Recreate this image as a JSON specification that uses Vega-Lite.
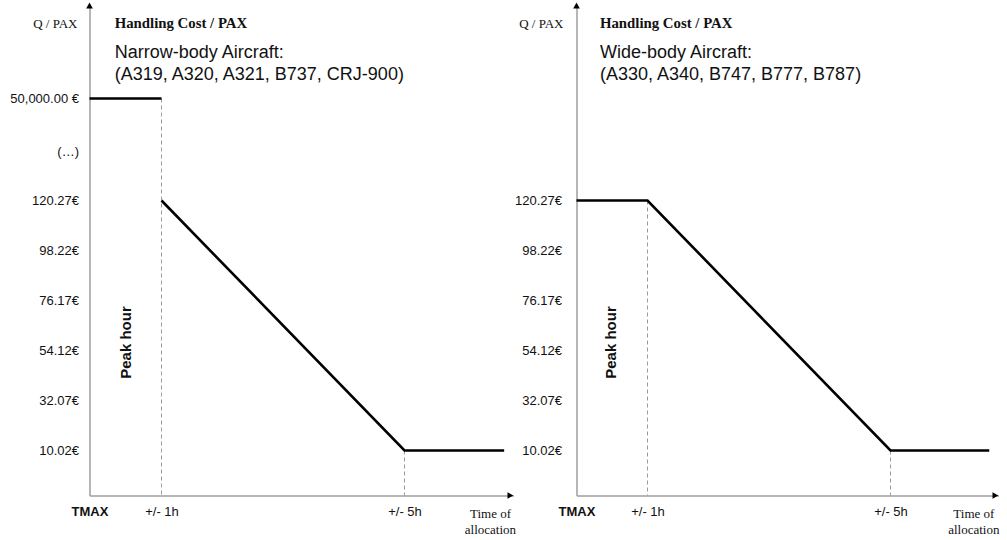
{
  "$schema": "https://vega.github.io/schema/vega-lite/v6.json",
  "autosize": {"type": "pad"},
  "padding": {"left": 9.5, "top": 2.5, "right": 0, "bottom": 0},
  "bounds": "flush",
  "spacing": 63,
  "background": "white",
  "config": {
    "view": {"stroke": null},
    "font": "Liberation Sans",
    "text": {"font": "Liberation Sans", "color": "#111111"}
  },
  "datasets": {
    "lines": [
      {"panel": "narrow", "segment": "peak", "t": 0, "cost": 50000},
      {"panel": "narrow", "segment": "peak", "t": 1, "cost": 50000},
      {"panel": "narrow", "segment": "decline", "t": 1, "cost": 120.27},
      {"panel": "narrow", "segment": "decline", "t": 5, "cost": 10.02},
      {"panel": "narrow", "segment": "decline", "t": 6.6, "cost": 10.02},
      {"panel": "wide", "segment": "all", "t": 0, "cost": 120.27},
      {"panel": "wide", "segment": "all", "t": 1, "cost": 120.27},
      {"panel": "wide", "segment": "all", "t": 5, "cost": 10.02},
      {"panel": "wide", "segment": "all", "t": 6.6, "cost": 10.02}
    ],
    "guides": [
      {"panel": "narrow", "t": 1, "top": 50000},
      {"panel": "narrow", "t": 5, "top": 10.02},
      {"panel": "wide", "t": 1, "top": 120.27},
      {"panel": "wide", "t": 5, "top": 10.02}
    ]
  },
  "hconcat": [
    {
      "width": 424,
      "height": 490,
      "layer": [
        {
          "data": {"name": "guides"},
          "transform": [{"filter": "datum.panel == 'narrow'"}],
          "mark": {"type": "rule", "color": "#9a9a9a", "strokeWidth": 1, "strokeDash": [4, 3]},
          "encoding": {
            "x": {"field": "t", "type": "quantitative", "title": null,
                  "scale": {"type": "linear", "domain": [0, 1, 5, 6.75], "range": [0, 72, 315, 424], "zero": false, "nice": false}},
            "y": {"field": "top", "type": "quantitative", "title": null,
                  "scale": {"type": "linear", "domain": [-9.825, 120.27, 50000, 60000], "range": [490, 195, 93, 0], "zero": false, "nice": false}},
            "y2": {"datum": -9.825}
          }
        },
        {
          "data": {"name": "lines"},
          "transform": [{"filter": "datum.panel == 'narrow'"}],
          "mark": {"type": "line", "color": "#000000", "strokeWidth": 2.6},
          "encoding": {
            "x": {"field": "t", "type": "quantitative", "title": null,
                  "scale": {"type": "linear", "domain": [0, 1, 5, 6.75], "range": [0, 72, 315, 424], "zero": false, "nice": false},
                  "axis": {"title": null, "values": [0, 1, 5], "grid": false, "ticks": false, "tickSize": 0,
                           "labelExpr": "datum.value == 0 ? 'TMAX' : '+/- ' + datum.value + 'h'",
                           "labelFontWeight": {"condition": {"test": "datum.value == 0", "value": "bold"}, "value": "normal"},
                           "labelFont": "Liberation Sans", "labelFontSize": 13, "labelColor": "#111111",
                           "labelPadding": 10, "labelFlush": false, "labelOverlap": false,
                           "domainColor": "#9e9e9e", "domainWidth": 1.5}},
            "y": {"field": "cost", "type": "quantitative", "title": null,
                  "scale": {"type": "linear", "domain": [-9.825, 120.27, 50000, 60000], "range": [490, 195, 93, 0], "zero": false, "nice": false},
                  "axis": {"title": null, "values": [10.02, 32.07, 54.12, 76.17, 98.22, 120.27, 24000, 50000],
                           "grid": false, "ticks": false, "tickSize": 0,
                           "labelExpr": "datum.value >= 50000 ? '50,000.00 €' : datum.value > 1000 ? '(…)' : format(datum.value, '.2f') + '€'",
                           "labelFont": "Liberation Sans", "labelFontSize": 13, "labelColor": "#111111",
                           "labelPadding": 11, "labelOverlap": false, "labelFlush": false,
                           "domainColor": "#9e9e9e", "domainWidth": 1.5}},
            "detail": {"field": "segment"}
          }
        },
        {
          "data": {"values": [{}]},
          "mark": {"type": "text", "text": "Peak hour", "angle": 270, "font": "Liberation Sans", "fontWeight": "bold", "fontSize": 15, "align": "center", "baseline": "middle"},
          "encoding": {"x": {"datum": 0.5}, "y": {"datum": 57.65}}
        },
        {
          "data": {"values": [{}]},
          "mark": {"type": "text", "text": "Q / PAX", "font": "Liberation Serif", "fontSize": 13, "align": "right", "baseline": "middle", "dx": -12},
          "encoding": {"x": {"datum": 0}, "y": {"datum": 58000}}
        },
        {
          "data": {"values": [{}]},
          "mark": {"type": "text", "text": "Handling Cost / PAX", "font": "Liberation Serif", "fontWeight": "bold", "fontSize": 14.8, "align": "left", "baseline": "middle"},
          "encoding": {"x": {"datum": 0.35}, "y": {"datum": 58000}}
        },
        {
          "data": {"values": [{}]},
          "mark": {"type": "text", "text": ["Narrow-body Aircraft:", "(A319, A320, A321, B737, CRJ-900)"], "font": "Liberation Sans", "fontSize": 18, "lineHeight": 21.5, "align": "left", "baseline": "middle"},
          "encoding": {"x": {"datum": 0.35}, "y": {"datum": 54866}}
        },
        {
          "data": {"values": [{}]},
          "mark": {"type": "text", "text": ["Time of", "allocation"], "font": "Liberation Serif", "fontSize": 13, "lineHeight": 16, "align": "center", "baseline": "top", "dy": 12},
          "encoding": {"x": {"datum": 6.38}, "y": {"datum": -9.825}}
        },
        {
          "data": {"values": [{}]},
          "mark": {"type": "point", "shape": "triangle-up", "filled": true, "color": "#000000", "size": 45, "opacity": 1},
          "encoding": {"x": {"datum": 0}, "y": {"datum": 60000}}
        },
        {
          "data": {"values": [{}]},
          "mark": {"type": "point", "shape": "triangle-right", "filled": true, "color": "#000000", "size": 45, "opacity": 1},
          "encoding": {"x": {"datum": 6.7}, "y": {"datum": -9.825}}
        }
      ]
    },
    {
      "width": 422,
      "height": 490,
      "layer": [
        {
          "data": {"name": "guides"},
          "transform": [{"filter": "datum.panel == 'wide'"}],
          "mark": {"type": "rule", "color": "#9a9a9a", "strokeWidth": 1, "strokeDash": [4, 3]},
          "encoding": {
            "x": {"field": "t", "type": "quantitative", "title": null,
                  "scale": {"type": "linear", "domain": [0, 1, 5, 6.75], "range": [0, 71, 314, 422], "zero": false, "nice": false}},
            "y": {"field": "top", "type": "quantitative", "title": null,
                  "scale": {"type": "linear", "domain": [-9.825, 120.27, 50000, 60000], "range": [490, 195, 93, 0], "zero": false, "nice": false}},
            "y2": {"datum": -9.825}
          }
        },
        {
          "data": {"name": "lines"},
          "transform": [{"filter": "datum.panel == 'wide'"}],
          "mark": {"type": "line", "color": "#000000", "strokeWidth": 2.6},
          "encoding": {
            "x": {"field": "t", "type": "quantitative", "title": null,
                  "scale": {"type": "linear", "domain": [0, 1, 5, 6.75], "range": [0, 71, 314, 422], "zero": false, "nice": false},
                  "axis": {"title": null, "values": [0, 1, 5], "grid": false, "ticks": false, "tickSize": 0,
                           "labelExpr": "datum.value == 0 ? 'TMAX' : '+/- ' + datum.value + 'h'",
                           "labelFontWeight": {"condition": {"test": "datum.value == 0", "value": "bold"}, "value": "normal"},
                           "labelFont": "Liberation Sans", "labelFontSize": 13, "labelColor": "#111111",
                           "labelPadding": 10, "labelFlush": false, "labelOverlap": false,
                           "domainColor": "#9e9e9e", "domainWidth": 1.5}},
            "y": {"field": "cost", "type": "quantitative", "title": null,
                  "scale": {"type": "linear", "domain": [-9.825, 120.27, 50000, 60000], "range": [490, 195, 93, 0], "zero": false, "nice": false},
                  "axis": {"title": null, "values": [10.02, 32.07, 54.12, 76.17, 98.22, 120.27],
                           "grid": false, "ticks": false, "tickSize": 0,
                           "labelExpr": "format(datum.value, '.2f') + '€'",
                           "labelFont": "Liberation Sans", "labelFontSize": 13, "labelColor": "#111111",
                           "labelPadding": 15, "labelOverlap": false, "labelFlush": false,
                           "domainColor": "#9e9e9e", "domainWidth": 1.5}},
            "detail": {"field": "segment"}
          }
        },
        {
          "data": {"values": [{}]},
          "mark": {"type": "text", "text": "Peak hour", "angle": 270, "font": "Liberation Sans", "fontWeight": "bold", "fontSize": 15, "align": "center", "baseline": "middle"},
          "encoding": {"x": {"datum": 0.48}, "y": {"datum": 57.65}}
        },
        {
          "data": {"values": [{}]},
          "mark": {"type": "text", "text": "Q / PAX", "font": "Liberation Serif", "fontSize": 13, "align": "right", "baseline": "middle", "dx": -13},
          "encoding": {"x": {"datum": 0}, "y": {"datum": 58000}}
        },
        {
          "data": {"values": [{}]},
          "mark": {"type": "text", "text": "Handling Cost / PAX", "font": "Liberation Serif", "fontWeight": "bold", "fontSize": 14.8, "align": "left", "baseline": "middle"},
          "encoding": {"x": {"datum": 0.33}, "y": {"datum": 58000}}
        },
        {
          "data": {"values": [{}]},
          "mark": {"type": "text", "text": ["Wide-body Aircraft:", "(A330, A340, B747, B777, B787)"], "font": "Liberation Sans", "fontSize": 18, "lineHeight": 21.5, "align": "left", "baseline": "middle"},
          "encoding": {"x": {"datum": 0.33}, "y": {"datum": 54866}}
        },
        {
          "data": {"values": [{}]},
          "mark": {"type": "text", "text": ["Time of", "allocation"], "font": "Liberation Serif", "fontSize": 13, "lineHeight": 16, "align": "center", "baseline": "top", "dy": 12},
          "encoding": {"x": {"datum": 6.35}, "y": {"datum": -9.825}}
        },
        {
          "data": {"values": [{}]},
          "mark": {"type": "point", "shape": "triangle-up", "filled": true, "color": "#000000", "size": 45, "opacity": 1},
          "encoding": {"x": {"datum": 0}, "y": {"datum": 60000}}
        },
        {
          "data": {"values": [{}]},
          "mark": {"type": "point", "shape": "triangle-right", "filled": true, "color": "#000000", "size": 45, "opacity": 1},
          "encoding": {"x": {"datum": 6.7}, "y": {"datum": -9.825}}
        }
      ]
    }
  ]
}
